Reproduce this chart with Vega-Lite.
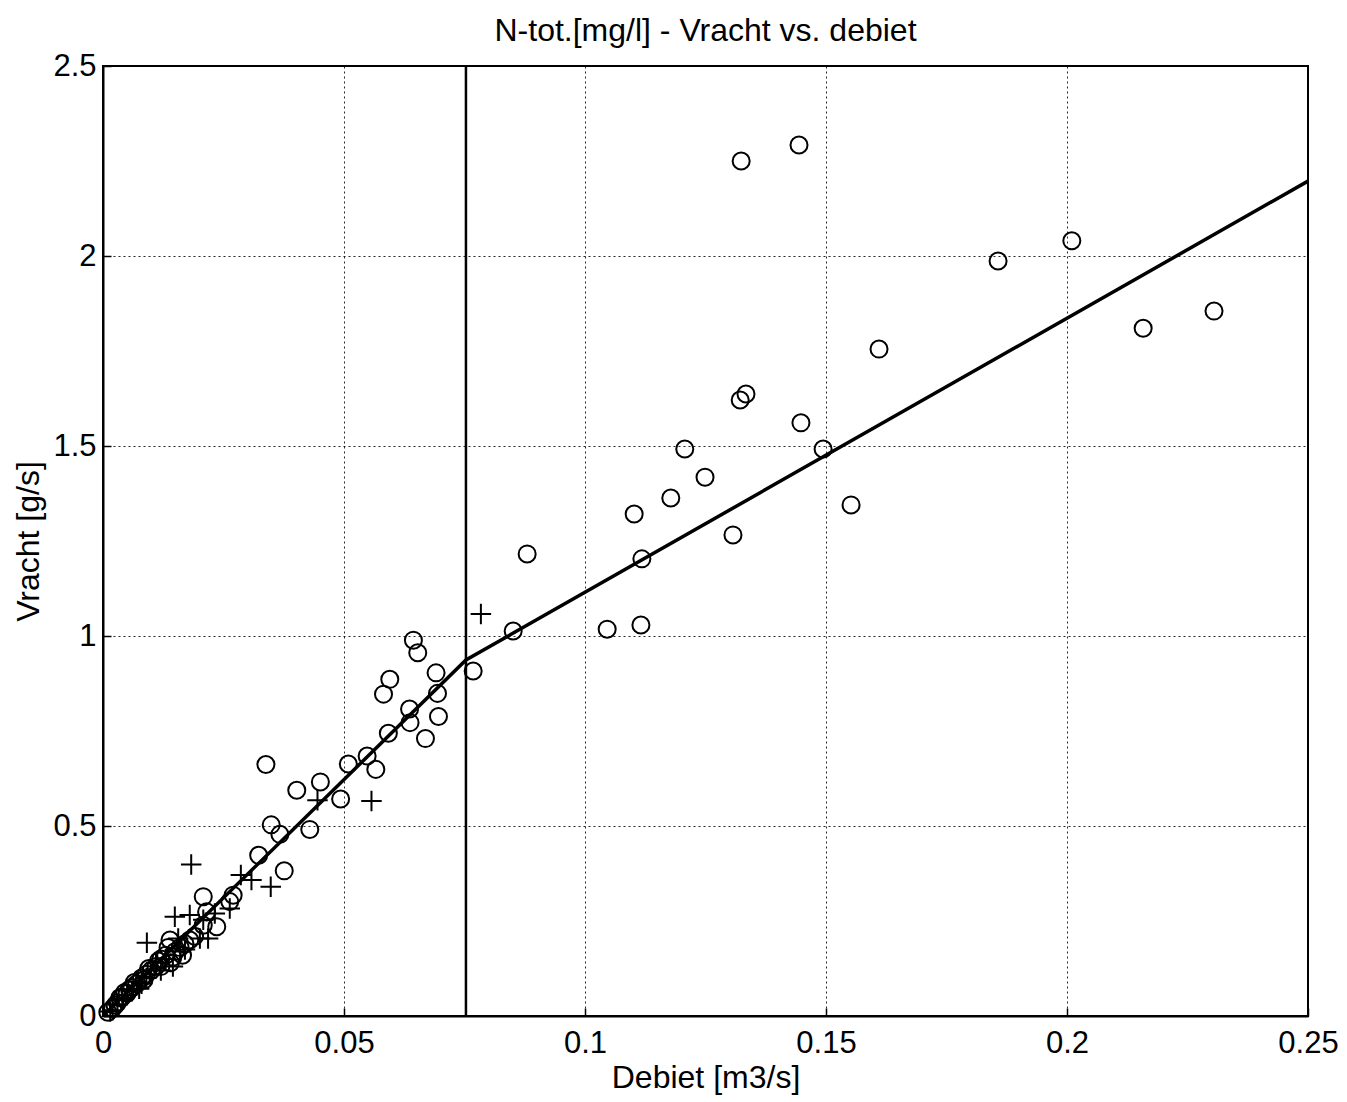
{
  "$schema": "https://vega.github.io/schema/vega-lite/v6.json",
  "width": 1205,
  "height": 950,
  "autosize": {"type": "none"},
  "padding": {"left": 103, "top": 66, "right": 39, "bottom": 86},
  "background": "white",
  "title": {"text": "N-tot.[mg/l] - Vracht vs. debiet", "font": "Liberation Sans", "fontSize": 32, "fontWeight": "normal", "color": "black", "offset": 2},
  "config": {
    "view": {"stroke": "black", "strokeWidth": 2},
    "axis": {
      "labelFont": "Liberation Sans", "labelFontSize": 31, "labelColor": "black",
      "titleFont": "Liberation Sans", "titleFontSize": 32, "titleFontWeight": "normal", "titleColor": "black",
      "domainColor": "black", "domainWidth": 2,
      "grid": true, "gridColor": "black", "gridDash": [2, 3], "gridWidth": 1, "gridOpacity": 0.85,
      "ticks": true, "tickColor": "black", "tickSize": -8, "tickWidth": 1.5,
      "format": "~g"
    }
  },
  "datasets": {
    "pts": [
      {"debiet": 0.1324, "vracht": 2.25, "type": "o"},
      {"debiet": 0.1444, "vracht": 2.292, "type": "o"},
      {"debiet": 0.201, "vracht": 2.04, "type": "o"},
      {"debiet": 0.1857, "vracht": 1.987, "type": "o"},
      {"debiet": 0.2158, "vracht": 1.81, "type": "o"},
      {"debiet": 0.2305, "vracht": 1.855, "type": "o"},
      {"debiet": 0.161, "vracht": 1.755, "type": "o"},
      {"debiet": 0.1334, "vracht": 1.637, "type": "o"},
      {"debiet": 0.1322, "vracht": 1.621, "type": "o"},
      {"debiet": 0.1448, "vracht": 1.561, "type": "o"},
      {"debiet": 0.1207, "vracht": 1.492, "type": "o"},
      {"debiet": 0.1494, "vracht": 1.492, "type": "o"},
      {"debiet": 0.1249, "vracht": 1.418, "type": "o"},
      {"debiet": 0.1178, "vracht": 1.363, "type": "o"},
      {"debiet": 0.1552, "vracht": 1.345, "type": "o"},
      {"debiet": 0.1102, "vracht": 1.321, "type": "o"},
      {"debiet": 0.1307, "vracht": 1.266, "type": "o"},
      {"debiet": 0.088, "vracht": 1.216, "type": "o"},
      {"debiet": 0.1118, "vracht": 1.203, "type": "o"},
      {"debiet": 0.0851, "vracht": 1.013, "type": "o"},
      {"debiet": 0.1046, "vracht": 1.018, "type": "o"},
      {"debiet": 0.1116, "vracht": 1.029, "type": "o"},
      {"debiet": 0.0768, "vracht": 0.908, "type": "o"},
      {"debiet": 0.0644, "vracht": 0.989, "type": "o"},
      {"debiet": 0.0653, "vracht": 0.956, "type": "o"},
      {"debiet": 0.0691, "vracht": 0.903, "type": "o"},
      {"debiet": 0.0595, "vracht": 0.886, "type": "o"},
      {"debiet": 0.0582, "vracht": 0.847, "type": "o"},
      {"debiet": 0.0694, "vracht": 0.849, "type": "o"},
      {"debiet": 0.0636, "vracht": 0.808, "type": "o"},
      {"debiet": 0.0637, "vracht": 0.772, "type": "o"},
      {"debiet": 0.0696, "vracht": 0.788, "type": "o"},
      {"debiet": 0.0669, "vracht": 0.73, "type": "o"},
      {"debiet": 0.0592, "vracht": 0.744, "type": "o"},
      {"debiet": 0.0548, "vracht": 0.684, "type": "o"},
      {"debiet": 0.0566, "vracht": 0.649, "type": "o"},
      {"debiet": 0.0509, "vracht": 0.663, "type": "o"},
      {"debiet": 0.0338, "vracht": 0.662, "type": "o"},
      {"debiet": 0.0451, "vracht": 0.616, "type": "o"},
      {"debiet": 0.0402, "vracht": 0.594, "type": "o"},
      {"debiet": 0.0493, "vracht": 0.571, "type": "o"},
      {"debiet": 0.0349, "vracht": 0.503, "type": "o"},
      {"debiet": 0.0367, "vracht": 0.478, "type": "o"},
      {"debiet": 0.0429, "vracht": 0.491, "type": "o"},
      {"debiet": 0.0323, "vracht": 0.423, "type": "o"},
      {"debiet": 0.0376, "vracht": 0.382, "type": "o"},
      {"debiet": 0.0208, "vracht": 0.314, "type": "o"},
      {"debiet": 0.027, "vracht": 0.318, "type": "o"},
      {"debiet": 0.0263, "vracht": 0.301, "type": "o"},
      {"debiet": 0.0236, "vracht": 0.235, "type": "o"},
      {"debiet": 0.0215, "vracht": 0.274, "type": "o"},
      {"debiet": 0.0208, "vracht": 0.239, "type": "o"},
      {"debiet": 0.0139, "vracht": 0.2, "type": "o"},
      {"debiet": 0.001, "vracht": 0.01, "type": "o"},
      {"debiet": 0.002, "vracht": 0.02, "type": "o"},
      {"debiet": 0.0025, "vracht": 0.028, "type": "o"},
      {"debiet": 0.003, "vracht": 0.035, "type": "o"},
      {"debiet": 0.0035, "vracht": 0.048, "type": "o"},
      {"debiet": 0.004, "vracht": 0.05, "type": "o"},
      {"debiet": 0.0045, "vracht": 0.062, "type": "o"},
      {"debiet": 0.005, "vracht": 0.06, "type": "o"},
      {"debiet": 0.0055, "vracht": 0.07, "type": "o"},
      {"debiet": 0.006, "vracht": 0.075, "type": "o"},
      {"debiet": 0.0065, "vracht": 0.088, "type": "o"},
      {"debiet": 0.007, "vracht": 0.085, "type": "o"},
      {"debiet": 0.008, "vracht": 0.1, "type": "o"},
      {"debiet": 0.0085, "vracht": 0.095, "type": "o"},
      {"debiet": 0.009, "vracht": 0.11, "type": "o"},
      {"debiet": 0.0095, "vracht": 0.125, "type": "o"},
      {"debiet": 0.01, "vracht": 0.12, "type": "o"},
      {"debiet": 0.011, "vracht": 0.13, "type": "o"},
      {"debiet": 0.0115, "vracht": 0.145, "type": "o"},
      {"debiet": 0.012, "vracht": 0.15, "type": "o"},
      {"debiet": 0.013, "vracht": 0.16, "type": "o"},
      {"debiet": 0.014, "vracht": 0.14, "type": "o"},
      {"debiet": 0.015, "vracht": 0.17, "type": "o"},
      {"debiet": 0.016, "vracht": 0.18, "type": "o"},
      {"debiet": 0.017, "vracht": 0.19, "type": "o"},
      {"debiet": 0.012, "vracht": 0.13, "type": "o"},
      {"debiet": 0.0145, "vracht": 0.155, "type": "o"},
      {"debiet": 0.0165, "vracht": 0.16, "type": "o"},
      {"debiet": 0.018, "vracht": 0.2, "type": "o"},
      {"debiet": 0.019, "vracht": 0.21, "type": "o"},
      {"debiet": 0.0135, "vracht": 0.18, "type": "o"},
      {"debiet": 0.0784, "vracht": 1.058, "type": "+"},
      {"debiet": 0.0445, "vracht": 0.568, "type": "+"},
      {"debiet": 0.0557, "vracht": 0.566, "type": "+"},
      {"debiet": 0.0183, "vracht": 0.399, "type": "+"},
      {"debiet": 0.0286, "vracht": 0.371, "type": "+"},
      {"debiet": 0.0308, "vracht": 0.358, "type": "+"},
      {"debiet": 0.0348, "vracht": 0.34, "type": "+"},
      {"debiet": 0.0149, "vracht": 0.261, "type": "+"},
      {"debiet": 0.018, "vracht": 0.266, "type": "+"},
      {"debiet": 0.0208, "vracht": 0.253, "type": "+"},
      {"debiet": 0.0232, "vracht": 0.27, "type": "+"},
      {"debiet": 0.0263, "vracht": 0.283, "type": "+"},
      {"debiet": 0.0201, "vracht": 0.204, "type": "+"},
      {"debiet": 0.0156, "vracht": 0.204, "type": "+"},
      {"debiet": 0.0218, "vracht": 0.204, "type": "+"},
      {"debiet": 0.0091, "vracht": 0.193, "type": "+"},
      {"debiet": 0.0015, "vracht": 0.012, "type": "+"},
      {"debiet": 0.002, "vracht": 0.015, "type": "+"},
      {"debiet": 0.003, "vracht": 0.03, "type": "+"},
      {"debiet": 0.004, "vracht": 0.045, "type": "+"},
      {"debiet": 0.005, "vracht": 0.055, "type": "+"},
      {"debiet": 0.006, "vracht": 0.065, "type": "+"},
      {"debiet": 0.007, "vracht": 0.09, "type": "+"},
      {"debiet": 0.0075, "vracht": 0.072, "type": "+"},
      {"debiet": 0.008, "vracht": 0.085, "type": "+"},
      {"debiet": 0.009, "vracht": 0.1, "type": "+"},
      {"debiet": 0.01, "vracht": 0.11, "type": "+"},
      {"debiet": 0.011, "vracht": 0.14, "type": "+"},
      {"debiet": 0.012, "vracht": 0.12, "type": "+"},
      {"debiet": 0.013, "vracht": 0.15, "type": "+"},
      {"debiet": 0.0145, "vracht": 0.13, "type": "+"},
      {"debiet": 0.016, "vracht": 0.17, "type": "+"},
      {"debiet": 0.017, "vracht": 0.175, "type": "+"}
    ],
    "fit": [
      {"debiet": 0.0, "vracht": 0.0},
      {"debiet": 0.0753, "vracht": 0.937},
      {"debiet": 0.25, "vracht": 2.197}
    ],
    "split": [
      {"debiet": 0.0753}
    ]
  },
  "layer": [
    {
      "data": {"name": "pts"},
      "mark": {"type": "point", "filled": false, "strokeWidth": 2, "color": "black", "opacity": 1},
      "encoding": {
        "x": {"field": "debiet", "type": "quantitative", "scale": {"domain": [0, 0.25], "nice": false}, "axis": {"title": "Debiet [m3/s]", "values": [0, 0.05, 0.1, 0.15, 0.2, 0.25], "labelPadding": 20, "titlePadding": 4, "labelFlush": false}},
        "y": {"field": "vracht", "type": "quantitative", "scale": {"domain": [0, 2.5], "nice": false}, "axis": {"title": "Vracht [g/s]", "values": [0, 0.5, 1, 1.5, 2, 2.5], "labelPadding": 15, "titlePadding": 7, "labelFlush": false}},
        "shape": {"field": "type", "type": "nominal", "scale": {"domain": ["o", "+"], "range": ["circle", "M-1,0H1M0,-1V1"]}, "legend": null},
        "size": {"field": "type", "type": "nominal", "scale": {"domain": ["o", "+"], "range": [290, 420]}, "legend": null}
      }
    },
    {
      "data": {"name": "fit"},
      "mark": {"type": "line", "color": "black", "strokeWidth": 3.5},
      "encoding": {
        "x": {"field": "debiet", "type": "quantitative"},
        "y": {"field": "vracht", "type": "quantitative"}
      }
    },
    {
      "data": {"name": "split"},
      "mark": {"type": "rule", "color": "black", "strokeWidth": 2.5},
      "encoding": {
        "x": {"field": "debiet", "type": "quantitative"}
      }
    }
  ]
}
